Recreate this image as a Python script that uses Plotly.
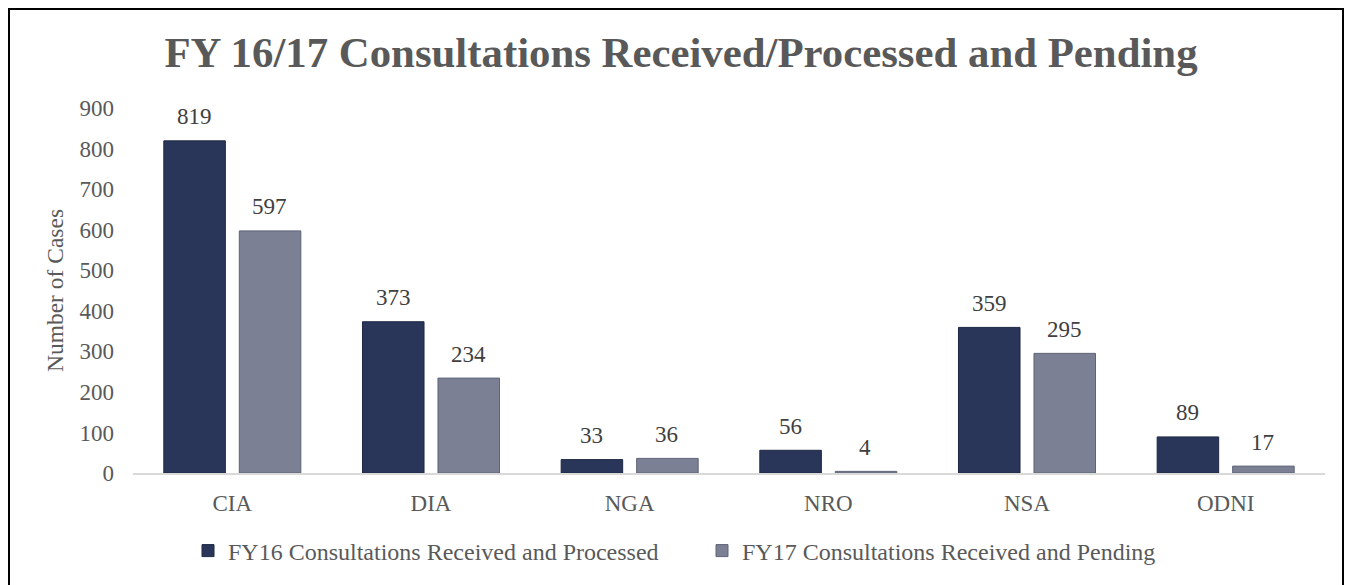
import plotly.graph_objects as go

# dados do grafico
agencias = ['CIA', 'DIA', 'NGA', 'NRO', 'NSA', 'ODNI']
fy16_processados = [819, 373, 33, 56, 359, 89]
fy17_pendentes = [597, 234, 36, 4, 295, 17]
nome_fy16 = 'FY16 Consultations Received and Processed'
nome_fy17 = 'FY17 Consultations Received and Pending'
titulo = 'FY 16/17 Consultations Received/Processed and Pending'

fonte = 'Liberation Serif, Times New Roman, serif'
cor_fy16 = '#293659'
cor_fy17 = '#7b8094'

# area do grafico em pixels (a pagina tem 8px de margem no body)
esq, topo, larg, alt = 125, 100, 1192, 365

fig = go.Figure()
fig.add_trace(go.Bar(x=agencias, y=fy16_processados, name=nome_fy16,
                     marker=dict(color=cor_fy16, line=dict(color='#1e2842', width=1))))
fig.add_trace(go.Bar(x=agencias, y=fy17_pendentes, name=nome_fy17,
                     marker=dict(color=cor_fy17, line=dict(color='#5f6477', width=1))))

# rotulos dos valores acima das barras
for i, ag in enumerate(agencias):
    fig.add_annotation(x=ag, y=fy16_processados[i], text=str(fy16_processados[i]),
                       xshift=-38, yshift=24, showarrow=False,
                       font=dict(family=fonte, size=23, color='#404040'))
    fig.add_annotation(x=ag, y=fy17_pendentes[i], text=str(fy17_pendentes[i]),
                       xshift=37, yshift=24, showarrow=False,
                       font=dict(family=fonte, size=23, color='#404040'))

# moldura preta em volta
fig.add_shape(type='rect', xref='paper', yref='paper',
              x0=(1 - esq) / larg, x1=(1335 - esq) / larg,
              y0=(topo + alt - 620) / alt, y1=(topo + alt - 1) / alt,
              line=dict(color='black', width=2), layer='above')

fig.update_layout(
    width=1353, height=585,
    margin=dict(l=esq, r=1353 - esq - larg, t=topo, b=585 - topo - alt),
    paper_bgcolor='white', plot_bgcolor='white',
    barmode='group', bargap=0.24, bargroupgap=0.185,
    font=dict(family=fonte, color='#595959'),
    title=dict(text='<b>' + titulo + '</b>', x=(673 - esq) / larg, xref='paper',
               xanchor='center', y=1 - 44 / 585, yanchor='middle',
               font=dict(family=fonte, size=42.8, color='#595959')),
    showlegend=True,
    legend=dict(orientation='h', x=(180 - esq) / larg, xanchor='left',
                y=(topo + alt - 543) / alt, yanchor='middle',
                font=dict(family=fonte, size=24, color='#595959'),
                itemwidth=30, traceorder='normal',
                entrywidth=469, entrywidthmode='pixels'),
    xaxis=dict(showline=True, linecolor='#d9d9d9', linewidth=2, ticks='',
               tickfont=dict(family=fonte, size=23, color='#595959'),
               ticklabelstandoff=8),
    yaxis=dict(range=[0, 900], dtick=100, showgrid=False, zeroline=False,
               tickfont=dict(family=fonte, size=23, color='#595959'),
               ticklabelstandoff=18,
               title=dict(text='Number of Cases', standoff=9,
                          font=dict(family=fonte, size=23.5, color='#595959'))),
)

fig.write_html('out.html')
